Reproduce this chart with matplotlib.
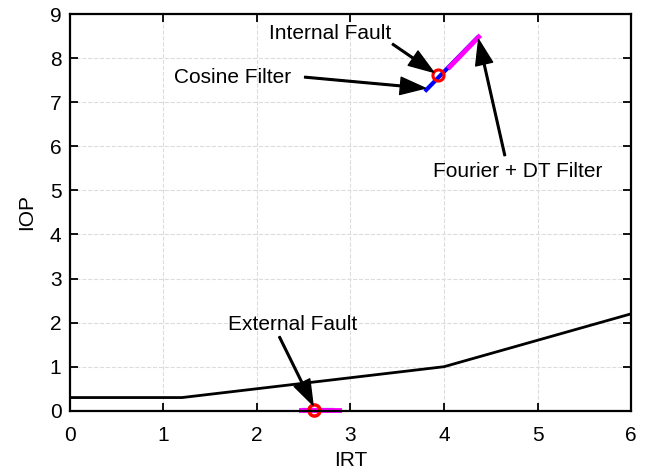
import matplotlib.pyplot as plt

plt.rcParams['font.family'] = ['Liberation Sans', 'DejaVu Sans']

# relay characteristic (IRT, IOP)
char_irt = [0, 1.2, 4, 6]
char_iop = [0.3, 0.3, 1.0, 2.2]

# internal fault trajectories
cos_int_irt = [3.81, 4.35]
cos_int_iop = [7.28, 8.45]
fdt_int_irt = [4.06, 4.37]
fdt_int_iop = [7.80, 8.48]
int_pt = (3.94, 7.62)

# external fault trajectories
cos_ext_irt = [2.50, 2.80]
cos_ext_iop = [0.02, 0.02]
fdt_ext_irt = [2.47, 2.88]
fdt_ext_iop = [0.02, 0.02]
ext_pt = (2.61, 0.02)

# labels: text position, arrow tail, arrow head
labels = [
    ('Internal Fault', (2.78, 8.57), (3.45, 8.32), (3.89, 7.68)),
    ('Cosine Filter', (1.74, 7.57), (2.51, 7.57), (3.80, 7.32)),
    ('Fourier + DT Filter', (4.79, 5.42), (4.65, 5.79), (4.37, 8.42)),
    ('External Fault', (2.38, 1.95), (2.24, 1.68), (2.60, 0.13)),
]

fig = plt.figure(figsize=(6.46, 4.70), dpi=100)
ax = fig.add_axes([0.108, 0.126, 0.869, 0.844])

ax.plot(char_irt, char_iop, color='black', lw=2.0)
ax.plot(cos_int_irt, cos_int_iop, color='blue', lw=3.0)
ax.plot(fdt_int_irt, fdt_int_iop, color='magenta', lw=3.5)
ax.plot(cos_ext_irt, cos_ext_iop, color='blue', lw=3.0, clip_on=False)
ax.plot(fdt_ext_irt, fdt_ext_iop, color='magenta', lw=3.5, clip_on=False)
ax.plot(*int_pt, 'o', ms=8, mfc='none', mec='red', mew=2.2)
ax.plot(*ext_pt, 'o', ms=8, mfc='none', mec='red', mew=2.5, clip_on=False)

arrow = dict(facecolor='black', edgecolor='black', width=1.2, headwidth=12.5, headlength=18, shrink=0)
for txt, pos, tail, head in labels:
    ax.text(pos[0], pos[1], txt, ha='center', va='center', fontsize=15)
    ax.annotate('', xy=head, xytext=tail, arrowprops=arrow)

ax.set_xlim(0, 6)
ax.set_ylim(0, 9)
ax.set_xticks(range(0, 7))
ax.set_yticks(range(0, 10))
ax.set_xlabel('IRT', fontsize=15, labelpad=4)
ax.set_ylabel('IOP', fontsize=15, labelpad=10)
ax.tick_params(direction='in', top=True, right=True, labelsize=15, width=1.3, length=6)
ax.tick_params(axis='x', pad=11)
ax.tick_params(axis='y', pad=6)
ax.grid(True, color='#dcdcdc', linestyle='--', linewidth=0.8)
for s in ax.spines.values():
    s.set_linewidth(1.6)

fig.savefig('out.png', dpi=100)
